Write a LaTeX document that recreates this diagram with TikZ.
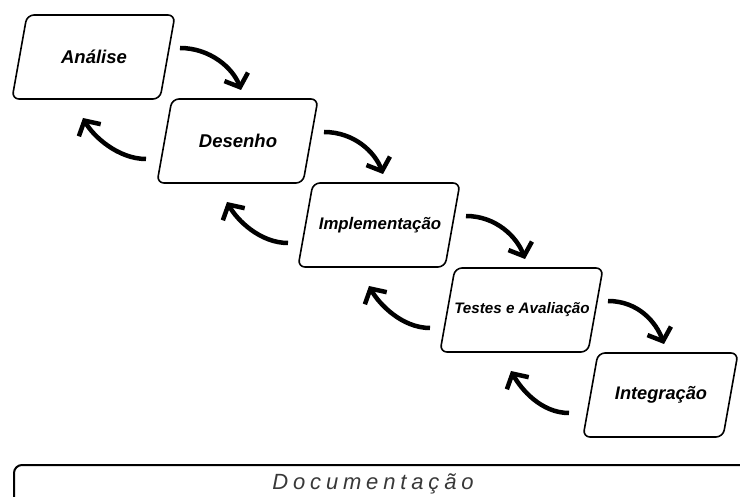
\documentclass[tikz,border=0pt]{standalone}
\usepackage{fontspec}
\setmainfont{Liberation Sans}
\newfontfamily\docfont[LetterSpace=22]{Liberation Sans}
\usetikzlibrary{arrows.meta,calc}

\tikzset{
  stage/.style={inner sep=0pt},
  boxline/.style={draw, line width=1.6pt, rounded corners=7pt},
  flow/.style={line width=4.5pt, -{Straight Barb[length=11pt,width=25pt]}},
}

\begin{document}
\begin{tikzpicture}[x=1pt,y=-1pt]
  \useasboundingbox (0,0) rectangle (740,497);
  \clip (0,0) rectangle (740,497);

  % project phases
  \node[stage, font=\fontsize{18.5}{20}\selectfont\bfseries\itshape] (ana) at (94,57) {Análise};
  \node[stage, font=\fontsize{18.5}{20}\selectfont\bfseries\itshape] (des) at (238,141) {Desenho};
  \node[stage, font=\fontsize{16.8}{18}\selectfont\bfseries\itshape] (imp) at (380,225) {Implementação};
  \node[stage, font=\fontsize{15.2}{17}\selectfont\bfseries\itshape] (tes) at (522,310) {Testes e Avaliação};
  \node[stage, font=\fontsize{18.2}{20}\selectfont\bfseries\itshape] (int) at (661,395) {Integração};

  % slanted frames round the phases (top-left / top-right offsets)
  \foreach \n/\l/\r in {ana/-67/81, des/-66/80, imp/-67/80, tes/-67/81, int/-63/77}
    \draw[boxline] ($(\n)+({(\l+\r)/2},-42)$) -- ($(\n)+(\r,-42)$) -- ($(\n)+(\r-15,42)$)
      -- ($(\n)+(\l-15,42)$) -- ($(\n)+(\l,-42)$) -- cycle;

  % forward steps
  \foreach \a/\b in {ana/des, des/imp, imp/tes, tes/int}
    \draw[flow] ($(\a)+(86,-9)$) .. controls +(30,0) and +(-8,-22) .. ($(\b)+(3,-51)$);

  % feedback steps
  \foreach \a/\b in {des/ana, imp/des, tes/imp, int/tes}
    \draw[flow] ($(\a)+(-92,18)$) .. controls +(-28,0) and +(10,18) .. ($(\b)+(-11,61)$);

  % documentation band along the bottom
  \node[draw, line width=2pt, rounded corners=8pt, anchor=north west,
        minimum width=780pt, minimum height=70pt, inner sep=0pt] (docbox) at (13,464) {};
  \node[text=black!78, font=\fontsize{22}{24}\selectfont\docfont\itshape] (doc) at (373,483.5) {Documentação};
\end{tikzpicture}
\end{document}
